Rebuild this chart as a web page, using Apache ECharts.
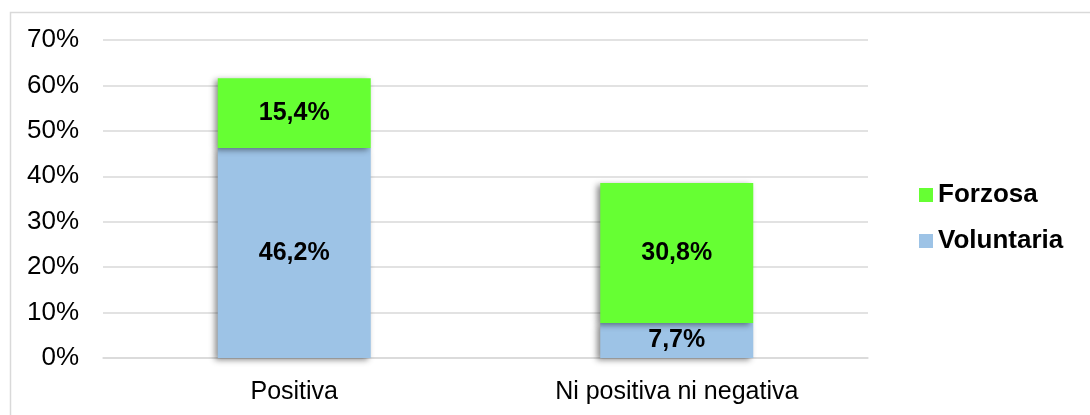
<!DOCTYPE html>
<html>
<head>
<meta charset="utf-8">
<script src="https://cdn.jsdelivr.net/npm/echarts@6/dist/echarts.min.js"></script>
<style>
  html, body { margin: 0; padding: 0; background: #fff; }
  #chart { width: 1090px; height: 415px; }
</style>
</head>
<body>
<div id="chart"></div>
<script>
  var categories = ['Positiva', 'Ni positiva ni negativa'];
  var voluntaria = [46.2, 7.7];
  var forzosa = [15.4, 30.8];
  var yTicks = [0, 10, 20, 30, 40, 50, 60, 70];

  var chart = echarts.init(document.getElementById('chart'));

  var barShadow = {
    shadowColor: 'rgba(0,0,0,0.45)',
    shadowBlur: 6,
    shadowOffsetX: -3,
    shadowOffsetY: 2
  };

  function pct(p) {
    return p.value.toFixed(1).replace('.', ',') + '%';
  }

  var option = {
    animation: false,
    textStyle: { fontFamily: 'Liberation Sans, Arial, sans-serif' },
    graphic: [{
      type: 'rect',
      left: 8, top: 10,
      shape: { width: 1100, height: 420 },
      style: { fill: 'none', stroke: '#d9d9d9', lineWidth: 1.5 },
      silent: true
    }],
    grid: { left: 103, right: 222, top: 40, bottom: 57 },
    legend: {
      orient: 'vertical',
      left: 914,
      top: 177,
      icon: 'rect',
      itemWidth: 14,
      itemHeight: 14,
      itemGap: 20,
      data: ['Forzosa', 'Voluntaria'],
      textStyle: { fontSize: 26, fontWeight: 'bold', color: '#000', padding: [0, 0, 0, 0] }
    },
    xAxis: {
      type: 'category',
      data: categories,
      axisLine: { lineStyle: { color: '#d9d9d9', width: 1.5 } },
      axisTick: { show: false },
      axisLabel: { fontSize: 25, color: '#000', margin: 22 }
    },
    yAxis: {
      type: 'value',
      min: yTicks[0],
      max: yTicks[yTicks.length - 1],
      interval: 10,
      axisLine: { show: false },
      axisTick: { show: false },
      splitLine: { lineStyle: { color: '#d9d9d9', width: 1.5 } },
      axisLabel: { fontSize: 26, color: '#000', margin: 24, formatter: '{value}%' }
    },
    series: [
      {
        name: 'Voluntaria',
        type: 'bar',
        stack: 'total',
        data: voluntaria,
        barWidth: '40%',
        itemStyle: Object.assign({ color: '#9dc3e6' }, barShadow),
        label: { show: true, position: 'inside', fontSize: 25, fontWeight: 'bold', color: '#000', formatter: pct }
      },
      {
        name: 'Forzosa',
        type: 'bar',
        stack: 'total',
        data: forzosa,
        barWidth: '40%',
        itemStyle: Object.assign({ color: '#66ff33' }, barShadow),
        label: { show: true, position: 'inside', fontSize: 25, fontWeight: 'bold', color: '#000', formatter: pct }
      }
    ]
  };

  chart.setOption(option);
</script>
</body>
</html>
